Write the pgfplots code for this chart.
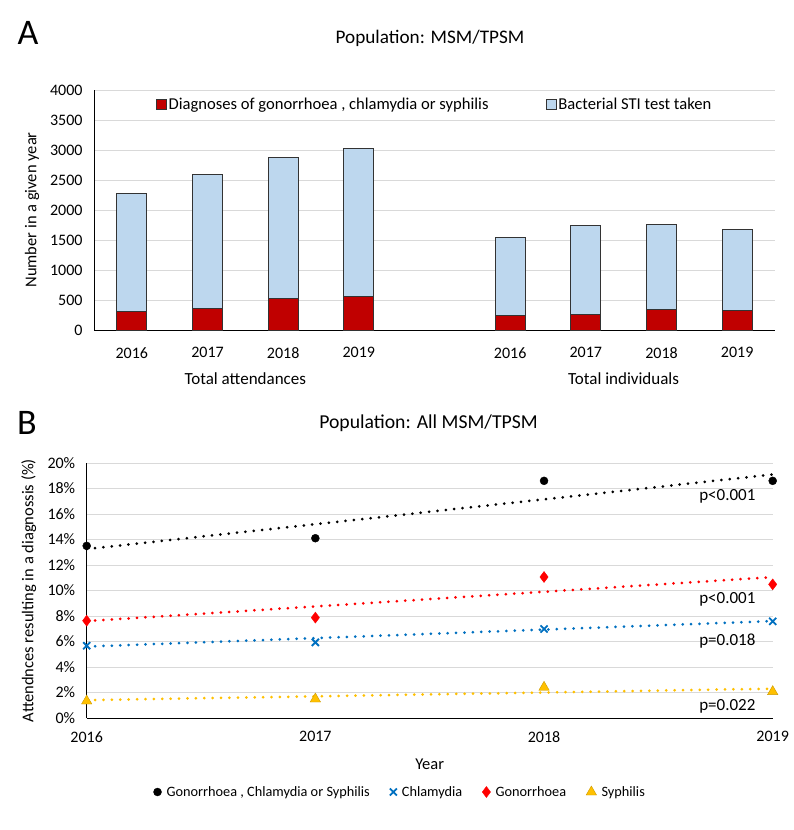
\documentclass[border=0pt]{standalone}
\usepackage{fontspec}
\setmainfont{Carlito}
\usepackage{pgfplots}
\pgfplotsset{compat=1.18}

\definecolor{barred}{HTML}{C00000}
\definecolor{barblue}{HTML}{BDD7EE}
\definecolor{gridgray}{HTML}{D9D9D9}
\definecolor{ptblue}{HTML}{0070C0}
\definecolor{ptred}{HTML}{FF0000}
\definecolor{ptyellow}{HTML}{FFC000}

\newcommand{\fs}[1]{\fontsize{#1}{#1}\selectfont}

\pgfplotsset{
  common/.style={
    scale only axis, clip=false,
    /pgf/number format/assume math mode=true,
    /pgf/number format/1000 sep={},
    tick label style={font=\fs{16}},
    major tick length=0pt,
    ymajorgrids, grid style={gridgray, line width=0.9pt},
    axis x line*=bottom, axis y line*=left,
    axis line style={black, line width=0.9pt},
  },
  trend/.style={line width=3pt, dash pattern=on 0pt off 8.4pt, line cap=round, forget plot},
  sqlegend/.style={legend image code/.code={\draw[##1] (0pt,-5pt) rectangle (10pt,5pt);}},
}

\begin{document}
\begin{tikzpicture}
\useasboundingbox (0pt,0pt) rectangle (793pt,830pt);

% ---------- panel A ----------
\node[font=\fs{36}] at (28pt,797pt) {A};
\node[font=\fs{19.2}] at (430pt,792pt) {Population: MSM/TPSM};

\begin{axis}[
  common,
  at={(94pt,500pt)}, anchor=south west,
  width=681pt, height=240pt,
  ybar, bar width=30pt,
  xmin=-0.5, xmax=8.5, ymin=0, ymax=4000,
  ytick={0,500,...,4000},
  xtick={0,1,2,3,5,6,7,8},
  xticklabels={2016,2017,2018,2019,2016,2017,2018,2019},
  xticklabel style={yshift=-14pt},
  yticklabel style={xshift=-8pt},
  ylabel={Number in a given year},
  every axis y label/.style={at={(axis description cs:-0.091,0.5)}, rotate=90, anchor=center, font=\fs{16.5}},
  legend columns=2,
  legend style={at={(0.5,0.985)}, anchor=north, draw=none, fill=none, font=\fs{16.6},
    /tikz/every even column/.append style={column sep=55pt}},
]
% Bacterial STI test taken
\addplot[bar shift=0pt, fill=barblue, draw=black!80, line width=0.9pt, forget plot]
  coordinates {(0,2283) (1,2594) (2,2872) (3,3033) (5,1539) (6,1744) (7,1761) (8,1683)};
% Diagnoses
\addplot[bar shift=0pt, fill=barred, draw=black!80, line width=0.9pt, forget plot]
  coordinates {(0,305) (1,361) (2,528) (3,561) (5,244) (6,256) (7,344) (8,333)};
\addlegendimage{sqlegend, fill=barred, draw=black!80, line width=0.8pt}
\addlegendentry{Diagnoses of gonorrhoea , chlamydia or syphilis}
\addlegendimage{sqlegend, fill=barblue, draw=black!80, line width=0.8pt}
\addlegendentry{Bacterial STI test taken}
\node[font=\fs{17}] at (axis cs:1.5,0) [yshift=-49pt] {Total attendances};
\node[font=\fs{17}] at (axis cs:6.5,0) [yshift=-49pt] {Total individuals};
\end{axis}

% ---------- panel B ----------
\node[font=\fs{36}] at (27pt,407pt) {B};
\node[font=\fs{19.7}] at (428.5pt,407pt) {Population: All MSM/TPSM};

\begin{axis}[
  common,
  at={(86.7pt,112pt)}, anchor=south west,
  width=686pt, height=255pt,
  xmin=0, xmax=3, ymin=0, ymax=20,
  xtick={0,1,2,3},
  xticklabels={2016,2017,2018,2019},
  ytick={0,2,...,20},
  yticklabel={\pgfmathprintnumber{\tick}\%},
  xticklabel style={yshift=-10pt},
  yticklabel style={xshift=-8pt},
  xlabel={Year},
  ylabel={Attendnces resulting in a diagnossis (\%)},
  every axis x label/.style={at={(axis description cs:0.5,0)}, anchor=center, yshift=-46pt, font=\fs{16.5}},
  every axis y label/.style={at={(axis description cs:-0.0845,0.5)}, rotate=90, anchor=center, font=\fs{16.5}},
  legend columns=4,
  legend style={at={(0.457,0)}, anchor=center, yshift=-74pt, draw=none, fill=none, font=\fs{14.3},
    /tikz/every odd column/.append style={column sep=3pt},
    /tikz/every even column/.append style={column sep=18pt}},
]
% years 2016..2019 plotted at 0..3
\addplot[trend, black] coordinates {(0,13.25) (3,19.1)};
\addplot[trend, ptred] coordinates {(0,7.6) (3,11.05)};
\addplot[trend, ptblue] coordinates {(0,5.6) (3,7.6)};
\addplot[trend, ptyellow] coordinates {(0,1.4) (3,2.3)};

\addplot[only marks, mark=*, mark size=4pt, black]
  coordinates {(0,13.5) (1,14.1) (2,18.6) (3,18.6)};
\addlegendentry{Gonorrhoea , Chlamydia or Syphilis}
\addplot[only marks, mark=x, mark size=5pt, ptblue, line width=1.8pt]
  coordinates {(0,5.67) (1,5.93) (2,6.98) (3,7.58)};
\addlegendentry{Chlamydia}
\addplot[only marks, mark=diamond*, mark size=5.5pt, ptred]
  coordinates {(0,7.63) (1,7.87) (2,11.06) (3,10.48)};
\addlegendentry{Gonorrhoea}
\addplot[only marks, mark=triangle*, mark size=6pt, ptyellow, mark options={draw=ptyellow!80!black, line width=0.4pt}]
  coordinates {(0,1.33) (1,1.49) (2,2.41) (3,2.07)};
\addlegendentry{Syphilis}

\node[anchor=east, font=\fs{17}] at (axis cs:2.94,17.4) {p<0.001};
\node[anchor=east, font=\fs{17}] at (axis cs:2.94,9.33) {p<0.001};
\node[anchor=east, font=\fs{17}] at (axis cs:2.94,6.04) {p=0.018};
\node[anchor=east, font=\fs{17}] at (axis cs:2.94,0.94) {p=0.022};
\end{axis}
\end{tikzpicture}
\end{document}
